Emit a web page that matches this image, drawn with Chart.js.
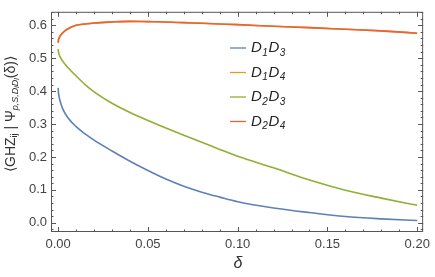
<!DOCTYPE html>
<html>
<head>
<meta charset="utf-8">
<script src="https://cdn.jsdelivr.net/npm/chart.js@4"></script>
<style>
  html, body { margin: 0; padding: 0; background: #fff; }
  #wrap { width: 435px; height: 277px; position: relative; }
</style>
</head>
<body>
<div id="wrap"><canvas id="chart"></canvas></div>
<script>
// valores (δ vs overlap)
const delta  = [0, 0.0002, 0.0005, 0.001, 0.0025, 0.005, 0.01, 0.015, 0.02, 0.03, 0.04, 0.05, 0.06, 0.07, 0.08, 0.09, 0.10, 0.12, 0.14, 0.16, 0.18, 0.20];
const d1d3   = [0.410, 0.393, 0.383, 0.371, 0.347, 0.322, 0.292, 0.270, 0.251, 0.218, 0.187, 0.159, 0.133, 0.111, 0.093, 0.078, 0.064, 0.045, 0.031, 0.019, 0.012, 0.007];
const d1d4   = [0.547, 0.556, 0.561, 0.567, 0.577, 0.588, 0.600, 0.604, 0.607, 0.610, 0.612, 0.611, 0.610, 0.608, 0.606, 0.604, 0.602, 0.597, 0.593, 0.588, 0.583, 0.576];
const d2d3   = [0.528, 0.518, 0.512, 0.505, 0.491, 0.474, 0.446, 0.420, 0.398, 0.363, 0.335, 0.311, 0.288, 0.266, 0.245, 0.223, 0.202, 0.167, 0.130, 0.099, 0.075, 0.053];
const d2d4   = [0.547, 0.556, 0.561, 0.567, 0.577, 0.588, 0.600, 0.604, 0.607, 0.610, 0.612, 0.611, 0.610, 0.608, 0.606, 0.604, 0.602, 0.597, 0.593, 0.588, 0.583, 0.576];

const xTicks = [0, 0.05, 0.10, 0.15, 0.20];
const yTicks = [0, 0.1, 0.2, 0.3, 0.4, 0.5, 0.6];
const xMinor = [0.01, 0.02, 0.03, 0.04, 0.06, 0.07, 0.08, 0.09, 0.11, 0.12, 0.13, 0.14, 0.16, 0.17, 0.18, 0.19];
const yMinor = [-0.02, 0.02, 0.04, 0.06, 0.08, 0.12, 0.14, 0.16, 0.18, 0.22, 0.24, 0.26, 0.28, 0.32, 0.34, 0.36, 0.38, 0.42, 0.44, 0.46, 0.48, 0.52, 0.54, 0.56, 0.58, 0.62, 0.64];

// legenda: [letra, índice, letra, índice]
const SERIES = [
  { parts: ["D", "1", "D", "3"], data: d1d3, color: "#5e81b5", order: 3 },
  { parts: ["D", "1", "D", "4"], data: d1d4, color: "#e19c24", order: 2 },
  { parts: ["D", "2", "D", "3"], data: d2d3, color: "#8fb032", order: 1 },
  { parts: ["D", "2", "D", "4"], data: d2d4, color: "#eb6235", order: 0 },
];

const FONT = "'Liberation Sans', Arial, sans-serif";
const FRAME = "#555";

const pts = (ys) => delta.map((x, i) => ({ x, y: ys[i] }));

// moldura estilo Mathematica, ticks para dentro, legenda e títulos
const framePlugin = {
  id: "frame",
  afterDraw(chart) {
    const { ctx, chartArea: a, scales: { x, y } } = chart;
    ctx.save();
    ctx.strokeStyle = FRAME;
    ctx.lineWidth = 1;
    ctx.strokeRect(a.left + 0.5, a.top + 0.5, a.right - a.left - 1, a.bottom - a.top - 1);
    const tick = (px, len, vert) => {
      ctx.beginPath();
      const p = Math.round(px) + 0.5;
      if (vert) {
        ctx.moveTo(p, a.bottom); ctx.lineTo(p, a.bottom - len);
        ctx.moveTo(p, a.top); ctx.lineTo(p, a.top + len);
      } else {
        ctx.moveTo(a.left, p); ctx.lineTo(a.left + len, p);
        ctx.moveTo(a.right, p); ctx.lineTo(a.right - len, p);
      }
      ctx.stroke();
    };
    xTicks.forEach(v => tick(x.getPixelForValue(v), 5, true));
    xMinor.forEach(v => tick(x.getPixelForValue(v), 2.5, true));
    yTicks.forEach(v => tick(y.getPixelForValue(v), 5, false));
    yMinor.forEach(v => { const p = y.getPixelForValue(v); if (p > a.top && p < a.bottom) tick(p, 2.5, false); });

    // legenda
    ctx.textBaseline = "middle";
    ctx.textAlign = "left";
    SERIES.forEach((s, i) => {
      const ly = 48 + i * 24.5;
      ctx.strokeStyle = s.color; ctx.lineWidth = 1.3;
      ctx.beginPath(); ctx.moveTo(230, ly); ctx.lineTo(246, ly); ctx.stroke();
      let tx = 251;
      ctx.fillStyle = "#222";
      s.parts.forEach((p, j) => {
        const sub = j % 2 === 1;
        ctx.font = sub ? `italic 10px ${FONT}` : `italic 15px ${FONT}`;
        ctx.fillText(p, tx, ly + (sub ? 5 : 0));
        tx += ctx.measureText(p).width + 0.5;
      });
    });

    // título do eixo x
    ctx.fillStyle = "#333";
    ctx.font = `italic 16px ${FONT}`;
    ctx.textAlign = "center";
    ctx.fillText("δ", (a.left + a.right) / 2 + 1, 264);

    // título do eixo y (com índices)
    const pieces = [
      ["⟨GHZ", 14, "", 0], ["ij", 9, "", 4], [" | Ψ", 14, "", 0],
      ["p,S,D", 9, "italic ", 4], ["i", 7, "italic ", 6], ["D", 9, "italic ", 4], ["l", 7, "italic ", 6],
      ["(δ)⟩", 14, "", 0],
    ];
    let total = 0;
    pieces.forEach(([t, sz, st]) => { ctx.font = `${st}${sz}px ${FONT}`; total += ctx.measureText(t).width; });
    ctx.save();
    ctx.translate(11, 114);
    ctx.rotate(-Math.PI / 2);
    ctx.textAlign = "left";
    ctx.fillStyle = "#333";
    let px = -total / 2;
    pieces.forEach(([t, sz, st, dy]) => {
      ctx.font = `${st}${sz}px ${FONT}`;
      ctx.fillText(t, px, dy);
      px += ctx.measureText(t).width;
    });
    ctx.restore();
    ctx.restore();
  },
};

new Chart(document.getElementById("chart"), {
  type: "line",
  data: {
    datasets: SERIES.map(s => ({
      data: pts(s.data), borderColor: s.color, backgroundColor: s.color,
      borderWidth: 1.6, pointRadius: 0, cubicInterpolationMode: "monotone", order: s.order,
    })),
  },
  options: {
    responsive: true, maintainAspectRatio: false, animation: false,
    layout: { padding: { top: 2, right: 9, left: 0, bottom: 0 } },
    plugins: { legend: { display: false }, tooltip: { enabled: false } },
    scales: {
      x: {
        type: "linear", min: -0.004, max: 0.2033,
        afterBuildTicks: (s) => { s.ticks = xTicks.map(v => ({ value: v })); },
        afterFit: (s) => { s.height = 45; },
        grid: { display: false, drawTicks: false }, border: { display: false },
        ticks: { padding: 5, color: "#444", font: { family: FONT, size: 13 }, maxRotation: 0, callback: (v) => v.toFixed(2) },
      },
      y: {
        type: "linear", min: -0.028, max: 0.641,
        afterBuildTicks: (s) => { s.ticks = yTicks.map(v => ({ value: v })); },
        afterFit: (s) => { s.width = 51; },
        grid: { display: false, drawTicks: false }, border: { display: false },
        ticks: { padding: 4, color: "#444", font: { family: FONT, size: 13 }, callback: (v) => v.toFixed(1) },
      },
    },
  },
  plugins: [framePlugin],
});
</script>
</body>
</html>
